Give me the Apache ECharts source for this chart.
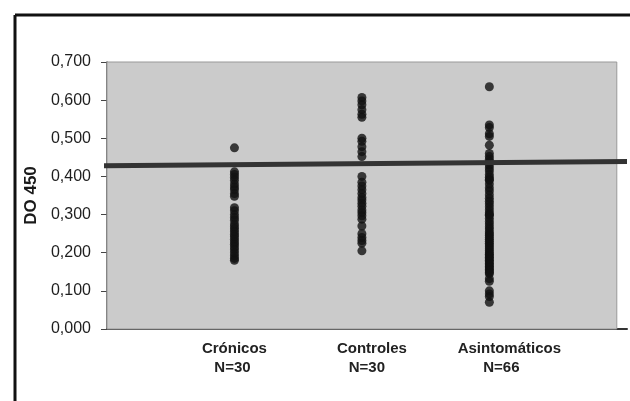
<!DOCTYPE html>
<html>
<head>
<meta charset="utf-8">
<script src="https://cdn.jsdelivr.net/npm/echarts@6/dist/echarts.min.js"></script>
<style>
html,body{margin:0;padding:0;background:#fff;}
#chart{width:630px;height:401px;}
</style>
</head>
<body>
<div id="chart"></div>
<script>
// Category names and group sizes
var categories = ['Crónicos', 'Controles', 'Asintomáticos'];
var groupSizes = ['N=30', 'N=30', 'N=66'];
var categoryPositions = [1, 2, 3];

// DO 450 values
var cronicos = [0.475, 0.412, 0.405, 0.398, 0.390, 0.380, 0.372, 0.365, 0.355, 0.348,
  0.318, 0.310, 0.300, 0.292, 0.285, 0.275, 0.268, 0.262, 0.255, 0.248,
  0.242, 0.235, 0.228, 0.222, 0.215, 0.208, 0.200, 0.192, 0.185, 0.180];
var controles = [0.607, 0.598, 0.588, 0.575, 0.563, 0.555, 0.500, 0.492, 0.478, 0.465,
  0.452, 0.400, 0.385, 0.375, 0.365, 0.355, 0.345, 0.338, 0.330, 0.322,
  0.312, 0.305, 0.297, 0.288, 0.270, 0.250, 0.240, 0.232, 0.225, 0.205];
var asintomaticos = [0.635, 0.535, 0.528, 0.512, 0.505, 0.482, 0.460, 0.452, 0.445, 0.438,
  0.430, 0.422, 0.415, 0.405, 0.398, 0.392, 0.390, 0.380, 0.370, 0.362,
  0.352, 0.343, 0.335, 0.328, 0.320, 0.312, 0.305, 0.300, 0.298, 0.290,
  0.282, 0.275, 0.268, 0.262, 0.255, 0.250, 0.245, 0.240, 0.235, 0.230,
  0.225, 0.220, 0.215, 0.210, 0.205, 0.200, 0.196, 0.192, 0.188, 0.184,
  0.180, 0.176, 0.172, 0.168, 0.164, 0.160, 0.156, 0.152, 0.148, 0.145,
  0.132, 0.125, 0.100, 0.092, 0.085, 0.070];

// Cut-off line (left and right ends)
var cutoffX = [-0.03, 4.08];
var cutoffY = [0.428, 0.439];

// Y-axis ticks
var yTicks = ['0,000', '0,100', '0,200', '0,300', '0,400', '0,500', '0,600', '0,700'];

var groups = [cronicos, controles, asintomaticos];
var scatterData = [];
groups.forEach(function (g, i) {
  g.forEach(function (v) { scatterData.push([categoryPositions[i], v]); });
});

var chart = echarts.init(document.getElementById('chart'), null, {renderer: 'canvas'});
var font = 'Liberation Sans, Arial, sans-serif';
function lbl(pl, pr) {
  return {fontFamily: font, fontWeight: 'bold', fontSize: 15, color: '#222', lineHeight: 19, padding: [0, pr, 0, pl]};
}
var labelRich = {
  a0: lbl(0, 0), b0: lbl(0, 4),
  a1: lbl(20, 0), b1: lbl(10, 0),
  a2: lbl(40, 0), b2: lbl(24, 0)
};

chart.setOption({
  animation: false,
  backgroundColor: '#ffffff',
  grid: {left: 107, right: 0, top: 62, bottom: 72, containLabel: false},
  xAxis: {
    type: 'value', min: 0, max: 4.08, interval: 1,
    axisLine: {show: true, lineStyle: {color: '#333', width: 2}},
    axisTick: {show: false},
    splitLine: {show: false},
    axisLabel: {
      margin: 10,
      formatter: function (v) {
        var i = categoryPositions.indexOf(v);
        if (i < 0) return '';
        return '{a' + i + '|' + categories[i] + '}\n{b' + i + '|' + groupSizes[i] + '}';
      },
      rich: labelRich
    }
  },
  yAxis: {
    type: 'value', min: 0, max: 0.7, interval: 0.1,
    name: 'DO 450', nameLocation: 'middle', nameGap: 67,
    nameTextStyle: {fontFamily: font, fontWeight: 'bold', fontSize: 17, color: '#1a1a1a'},
    axisLine: {show: true, lineStyle: {color: '#444', width: 1.5}},
    axisTick: {show: true, length: 6, lineStyle: {color: '#444'}},
    splitLine: {show: false},
    axisLabel: {
      margin: 16, fontFamily: font, fontSize: 16, color: '#1e1e1e',
      formatter: function (v) { return yTicks[Math.round(v * 10)]; }
    }
  },
  series: [
    {
      type: 'scatter',
      data: scatterData,
      symbol: 'circle', symbolSize: 9,
      itemStyle: {color: '#111'},
      z: 3,
      markArea: {
        silent: true,
        itemStyle: {color: '#cbcbcb', borderColor: '#999', borderWidth: 1},
        data: [[{coord: [0, 0]}, {coord: [4, 0.7]}]]
      }
    },
    {
      type: 'line',
      data: [[cutoffX[0], cutoffY[0]], [cutoffX[1], cutoffY[1]]],
      clip: false,
      symbol: 'none',
      lineStyle: {color: '#333', width: 5},
      z: 4
    }
  ],
  graphic: [
    {type: 'line', shape: {x1: 15, y1: 15, x2: 630, y2: 15}, style: {stroke: '#111', lineWidth: 3}},
    {type: 'line', shape: {x1: 15, y1: 15, x2: 15, y2: 401}, style: {stroke: '#111', lineWidth: 3}}
  ]
});
</script>
</body>
</html>
